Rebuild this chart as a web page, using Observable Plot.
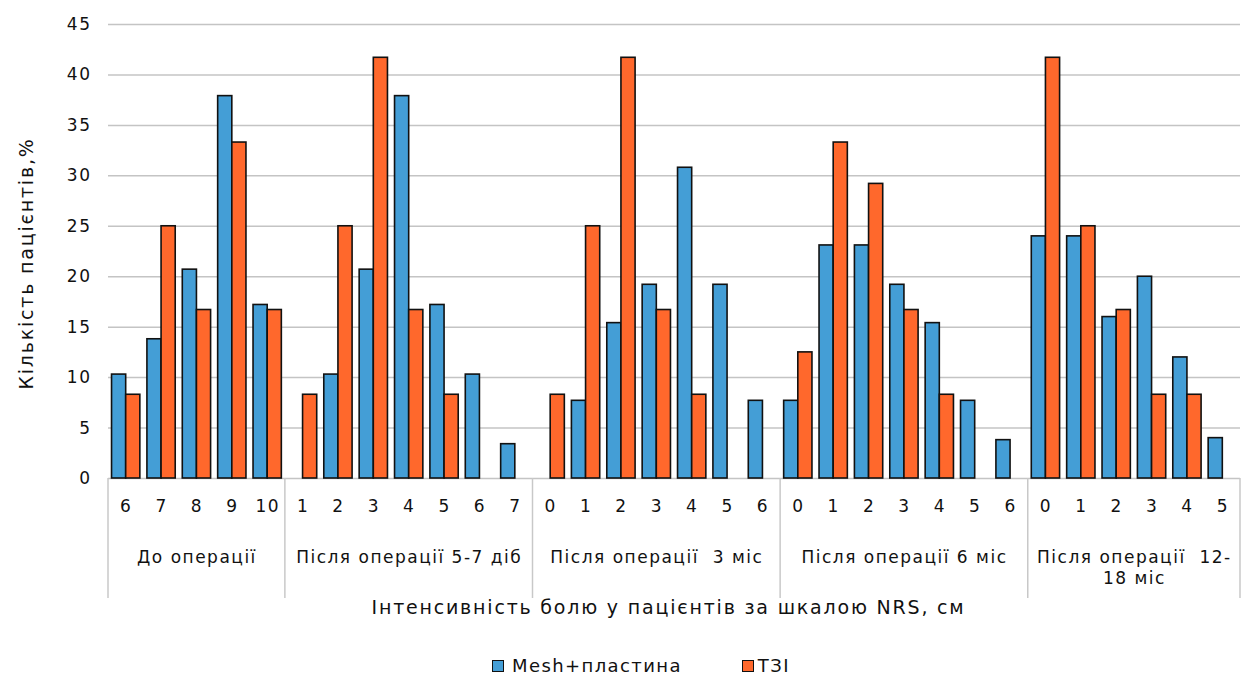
<!DOCTYPE html>
<html>
<head>
<meta charset="utf-8">
<script src="https://cdn.jsdelivr.net/npm/d3@7"></script>
<script src="https://cdn.jsdelivr.net/npm/@observablehq/plot@0.6"></script>
<style>
  html, body { margin: 0; padding: 0; background: #fff; }
  #chart svg text { letter-spacing: 1.5px; }
  #chart g[font-size="19"] text { letter-spacing: 1.8px; }
  .legend { display: flex; justify-content: flex-start; align-items: center; height: 35px; margin-top: 8px;
    padding-left: 492px; font-family: "DejaVu Sans", Verdana, sans-serif; font-size: 18px; color: #111; letter-spacing: 1.4px; }
  .legend .item { display: flex; align-items: center; }
  .legend .sw { width: 10px; height: 10px; border: 1.5px solid #111; margin-right: 8px; }
</style>
</head>
<body>
<div id="chart"></div>
<div class="legend" id="legend"></div>
<script>
// ---- data ----
const groupLabels = ["До операції", "Після операції 5-7 діб", "Після операції  3 міс", "Після операції 6 міс", "Після операції  12-\n18 міс"];
const scoreLabels = [
  [6, 7, 8, 9, 10],
  [1, 2, 3, 4, 5, 6, 7],
  [0, 1, 2, 3, 4, 5, 6],
  [0, 1, 2, 3, 4, 5, 6],
  [0, 1, 2, 3, 4, 5]
];
const meshValues = [
  [10.3, 13.8, 20.7, 37.9, 17.2],
  [0, 10.3, 20.7, 37.9, 17.2, 10.3, 3.4],
  [0, 7.7, 15.4, 19.2, 30.8, 19.2, 7.7],
  [7.7, 23.1, 23.1, 19.2, 15.4, 7.7, 3.8],
  [24, 24, 16, 20, 12, 4]
];
const tziValues = [
  [8.3, 25, 16.7, 33.3, 16.7],
  [8.3, 25, 41.7, 16.7, 8.3, 0, 0],
  [8.3, 25, 41.7, 16.7, 8.3, 0, 0],
  [12.5, 33.3, 29.2, 16.7, 8.3, 0, 0],
  [41.7, 25, 16.7, 8.3, 8.3, 0]
];
const seriesNames = ["Mesh+пластина", "ТЗІ"];
const seriesColors = ["#449ED6", "#FF682C"];
const yTicks = [0, 5, 10, 15, 20, 25, 30, 35, 40, 45];
const yLabel = "Кількість пацієнтів,%";
const xTitle = "Інтенсивність болю у пацієнтів за шкалою NRS, см";

// ---- build tables ----
const categories = [];
const bars = [];
const groups = [];
let idx = 0;
scoreLabels.forEach((scores, g) => {
  const start = idx;
  scores.forEach((s, j) => {
    categories.push({i: idx, score: s, group: groupLabels[g]});
    [meshValues, tziValues].forEach((vals, k) => {
      bars.push({i: idx, k, series: seriesNames[k], value: vals[g][j]});
    });
    idx++;
  });
  groups.push({label: groupLabels[g], start, end: idx});
});
const nCat = idx;
const boundaries = [0, ...groups.map(g => g.end)];

const W = 1245, H = 640;
const chart = Plot.plot({
  width: W,
  height: H,
  marginTop: 24,
  marginBottom: 162,
  marginLeft: 108,
  marginRight: 5,
  style: {fontFamily: "DejaVu Sans, Verdana, sans-serif", fontSize: "17px", color: "#111", background: "#fff"},
  x: {domain: [0, nCat], axis: null},
  y: {domain: [0, 45], ticks: yTicks, tickSize: 0, tickPadding: 17, label: null},
  color: {domain: seriesNames, range: seriesColors},
  marks: [
    Plot.ruleY(yTicks, {stroke: "#c4c4c4", strokeWidth: 1.5}),
    Plot.rect(bars.filter(d => d.value > 0), {
      x1: d => d.i + 0.1 + d.k * 0.4,
      x2: d => d.i + 0.5 + d.k * 0.4,
      y1: 0,
      y2: "value",
      fill: "series",
      stroke: "#111",
      strokeWidth: 1.6
    }),
    Plot.text(categories, {x: d => d.i + 0.5, text: d => String(d.score), frameAnchor: "bottom", dy: 33, fontSize: 17, fill: "#111"}),
    Plot.text(groups, {x: d => (d.start + d.end) / 2, text: "label", frameAnchor: "bottom", lineAnchor: "top", dy: 69, lineHeight: 1.25, fontSize: 17, fill: "#111"}),
    Plot.text([xTitle], {frameAnchor: "bottom", dy: 135, dx: -6, fontSize: 19, fill: "#111"}),
    Plot.text([yLabel], {frameAnchor: "left", textAnchor: "middle", rotate: -90, dx: -82, dy: 12, fontSize: 19, fill: "#111"})
  ]
});

// group separators on the category axis, positioned with the chart's own scales
const xs = chart.scale("x"), ys = chart.scale("y");
const svg = d3.select(chart);
const y0 = ys.apply(0);
svg.append("g").attr("stroke", "#c8c8c8").attr("stroke-width", 1.5)
  .selectAll("line").data(boundaries).join("line")
  .attr("x1", d => xs.apply(d)).attr("x2", d => xs.apply(d))
  .attr("y1", y0).attr("y2", y0 + 120);

document.getElementById("chart").appendChild(chart);

// legend
const legend = d3.select("#legend");
seriesNames.forEach((name, k) => {
  const item = legend.append("div").attr("class", "item").style("margin-left", k ? "60px" : "0");
  item.append("div").attr("class", "sw").style("background", seriesColors[k]).style("margin-right", k ? "4px" : "8px");
  item.append("span").text(name);
});
</script>
</body>
</html>
